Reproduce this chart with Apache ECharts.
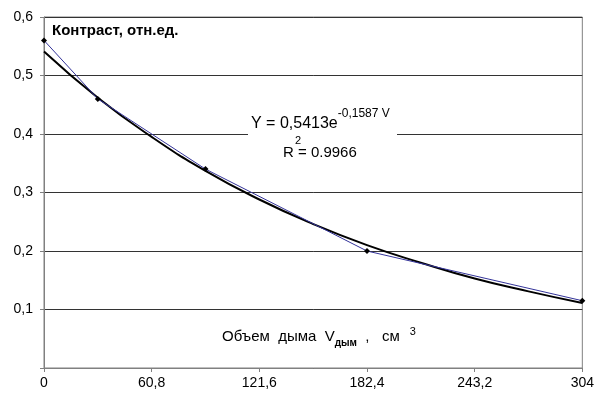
<!DOCTYPE html>
<html>
<head>
<meta charset="utf-8">
<script src="https://cdn.jsdelivr.net/npm/echarts@6/dist/echarts.min.js"></script>
<style>
  html, body { margin: 0; padding: 0; background: #fff; }
  #chart { width: 597px; height: 394px; }
</style>
</head>
<body>
<div id="chart"></div>
<script>
// измеренные точки (объем дыма, см3 -> контраст)
let volume = [0, 30.4, 91.2, 182.4, 304];
let contrast = [0.56, 0.46, 0.34, 0.20, 0.115];

// линия тренда
let trendX = [0, 30.4, 60.8, 91.2, 121.6, 152, 182.4, 212.8, 243.2, 273.6, 304];
let trendY = [0.541, 0.462, 0.395, 0.337, 0.288, 0.246, 0.210, 0.180, 0.153, 0.131, 0.111];

const font = 'Liberation Sans, Arial, sans-serif';

let options = {
    animation: false,
    grid: {
        left: 44,
        right: 14,
        top: 17,
        bottom: 26,
        show: true,
        borderColor: '#808080',
        borderWidth: 1
    },
    xAxis: {
        type: 'value',
        min: 0,
        max: 304,
        interval: 60.8,
        axisLine: { lineStyle: { color: '#808080' } },
        axisTick: { show: true, length: 4, lineStyle: { color: '#808080' } },
        splitLine: { show: false },
        axisLabel: {
            margin: 8,
            color: '#000',
            fontFamily: font,
            fontSize: 14,
            formatter: v => String(v).replace('.', ',')
        }
    },
    yAxis: {
        type: 'value',
        min: 0,
        max: 0.6,
        interval: 0.1,
        axisLine: { show: true, lineStyle: { color: '#808080' } },
        axisTick: { show: true, length: 4, lineStyle: { color: '#808080' } },
        splitLine: { show: true, lineStyle: { color: '#333', width: 1 } },
        axisLabel: {
            margin: 11,
            color: '#000',
            fontFamily: font,
            fontSize: 14,
            formatter: v => v === 0 ? '' : v.toFixed(1).replace('.', ',')
        }
    },
    graphic: [
        {
            type: 'text', left: 52, top: 23,
            style: { text: 'Контраст, отн.ед.', font: 'bold 15px ' + font, fill: '#000' }
        },
        // подложка под уравнение
        {
            type: 'rect', shape: { x: 248, y: 108, width: 149, height: 54 },
            style: { fill: '#fff' }, z: 5
        },
        {
            type: 'text', left: 251, top: 108, z: 6,
            style: {
                text: '{a|Y = 0,5413e}{b|-0,1587 V}',
                rich: {
                    a: { fontFamily: font, fontSize: 16, lineHeight: 24, verticalAlign: 'bottom', fill: '#000' },
                    b: { fontFamily: font, fontSize: 12, lineHeight: 14, verticalAlign: 'top', fill: '#000' }
                }
            }
        },
        {
            type: 'text', left: 295, top: 135, z: 6,
            style: { text: '2', font: '11px ' + font, fill: '#000' }
        },
        {
            type: 'text', left: 283, top: 145, z: 6,
            style: { text: 'R = 0.9966', font: '15px ' + font, fill: '#000' }
        },
        // подпись оси X
        {
            type: 'text', left: 222, top: 326,
            style: {
                text: '{a|Объем  дыма  V}{s|дым}{a|  ,   см}{p|3}',
                rich: {
                    a: { fontFamily: font, fontSize: 15, lineHeight: 22, verticalAlign: 'middle', fill: '#000' },
                    s: { fontFamily: font, fontSize: 10, fontWeight: 'bold', lineHeight: 12, verticalAlign: 'bottom', fill: '#000' },
                    p: { fontFamily: font, fontSize: 11, lineHeight: 12, verticalAlign: 'top', padding: [0, 0, 0, 10], fill: '#000' }
                }
            }
        }
    ],
    series: [
        {
            type: 'line',
            data: volume.map((v, i) => [v, contrast[i]]),
            symbol: 'diamond',
            symbolSize: 6,
            itemStyle: { color: '#000' },
            lineStyle: { color: '#333399', width: 1 },
            z: 3
        },
        {
            type: 'line',
            data: trendX.map((v, i) => [v, trendY[i]]),
            smooth: true,
            symbol: 'none',
            lineStyle: { color: '#000', width: 2 },
            z: 2
        }
    ]
};

let chart = echarts.init(document.getElementById('chart'), null, { renderer: 'canvas' });
chart.setOption(options);
</script>
</body>
</html>
